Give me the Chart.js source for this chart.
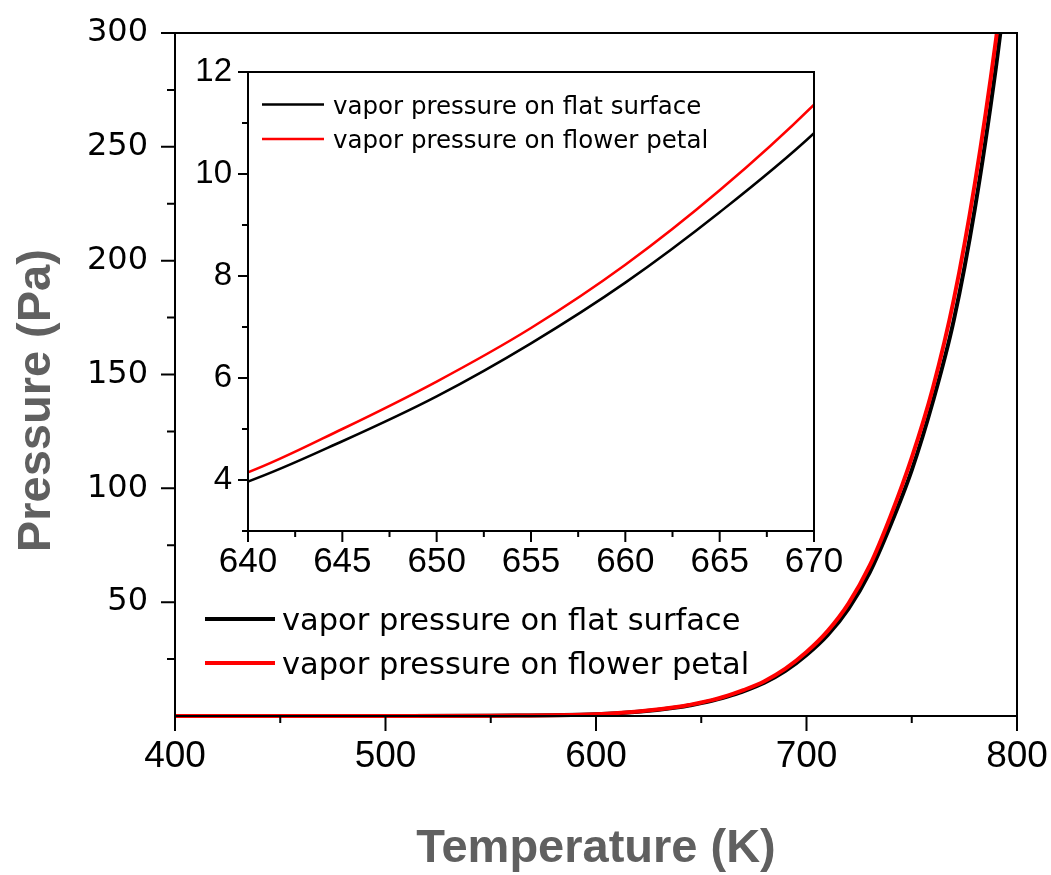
<!DOCTYPE html>
<html>
<head>
<meta charset="utf-8">
<title>Vapor pressure vs temperature</title>
<script src="https://cdn.jsdelivr.net/npm/chart.js@4.4.1/dist/chart.umd.min.js"></script>
<style>
  body { margin: 0; background: #fff; }
  #wrap { position: relative; width: 1051px; height: 875px; }
  #mainChart { position: absolute; left: 0; top: 0; }
  #insetChart { position: absolute; left: 170px; top: 40px; }
</style>
</head>
<body>
<div id="wrap">
  <canvas id="mainChart" width="1051" height="875"></canvas>
  <canvas id="insetChart" width="690" height="560"></canvas>
</div>
<script>
// data (temperature in K, pressure in Pa)
const temperatures = [400, 450, 500, 550, 600, 620, 640, 645, 650, 655, 660, 665, 670,
                      680, 690, 700, 710, 720, 730, 740, 750, 760, 770, 780, 790, 795];
const flatPressure = [0, 0.002, 0.02, 0.15, 0.75, 1.85, 3.97, 4.76, 5.64, 6.68, 7.87, 9.25, 10.8,
                      14.6, 19.8, 26.8, 35.5, 47.2, 63, 84, 108, 138, 174, 223, 285, 322];
const petalPressure = [0, 0.002, 0.02, 0.16, 0.8, 1.95, 4.15, 5.0, 5.93, 6.98, 8.22, 9.68, 11.36,
                       15.3, 20.8, 28.1, 37.3, 49.5, 66, 88, 113.5, 144, 183, 234, 297, 335];
const seriesLabels = ['vapor pressure on flat surface', 'vapor pressure on flower petal'];

// tick values
const mainXTicks = [400, 500, 600, 700, 800];
const mainXMinor = [450, 550, 650, 750];
const mainYTicks = [50, 100, 150, 200, 250, 300];
const mainYMinor = [25, 75, 125, 175, 225, 275];
const insetXTicks = [640, 645, 650, 655, 660, 665, 670];
const insetXMinor = [642.5, 647.5, 652.5, 657.5, 662.5, 667.5];
const insetYTicks = [4, 6, 8, 10, 12];
const insetYMinor = [3, 5, 7, 9, 11];

const toPoints = (ys) => temperatures.map((t, i) => ({ x: t, y: ys[i] }));

// frame round the plot area + outward ticks (major / minor)
const frameAndTicks = {
    id: 'frameAndTicks',
    beforeDatasetsDraw(chart) {
        const { ctx, chartArea: a } = chart;
        ctx.save();
        ctx.fillStyle = '#fff';
        ctx.fillRect(a.left, a.top, a.right - a.left, a.bottom - a.top);
        ctx.restore();
    },
    afterDatasetsDraw(chart, args, o) {
        const { ctx, chartArea: a, scales: { x, y } } = chart;
        ctx.save();
        ctx.strokeStyle = '#000';
        ctx.lineWidth = 2;
        ctx.strokeRect(a.left, a.top, a.right - a.left, a.bottom - a.top);
        ctx.beginPath();
        o.xMajor.forEach(v => { const p = x.getPixelForValue(v); ctx.moveTo(p, a.bottom); ctx.lineTo(p, a.bottom + o.xMajorLen); });
        o.xMinor.forEach(v => { const p = x.getPixelForValue(v); ctx.moveTo(p, a.bottom); ctx.lineTo(p, a.bottom + o.xMinorLen); });
        o.yMajor.forEach(v => { const p = y.getPixelForValue(v); ctx.moveTo(a.left, p); ctx.lineTo(a.left - o.yMajorLen, p); });
        o.yMinor.forEach(v => { const p = y.getPixelForValue(v); ctx.moveTo(a.left, p); ctx.lineTo(a.left - o.yMinorLen, p); });
        ctx.stroke();
        ctx.restore();
    }
};

// legend drawn inside the plot area
const innerLegend = {
    id: 'innerLegend',
    afterDatasetsDraw(chart, args, o) {
        const { ctx, chartArea: a } = chart;
        ctx.save();
        chart.data.datasets.forEach((ds, i) => {
            const yy = a.top + o.top + i * o.gap;
            ctx.strokeStyle = ds.borderColor;
            ctx.lineWidth = o.lineWidth;
            ctx.beginPath();
            ctx.moveTo(a.left + o.left, yy);
            ctx.lineTo(a.left + o.left + o.lineLen, yy);
            ctx.stroke();
            ctx.fillStyle = '#000';
            ctx.font = o.font;
            ctx.textBaseline = 'alphabetic';
            ctx.fillText(ds.label, a.left + o.textLeft, yy + o.baseShift);
        });
        ctx.restore();
    }
};

function lineSet(label, ys, color, width, order) {
    return {
        label: label,
        data: toPoints(ys),
        borderColor: color,
        borderWidth: width,
        pointRadius: 0,
        fill: false,
        cubicInterpolationMode: 'monotone',
        order: order,
        clip: { left: 0, top: 0, right: 0, bottom: 4 }
    };
}

// hidden tick marks only give the label offset (real ticks come from the plugin)
const hiddenGrid = (len) => ({ display: false, drawTicks: true, tickLength: len });

// main chart
new Chart(document.getElementById('mainChart').getContext('2d'), {
    type: 'line',
    data: {
        datasets: [
            lineSet(seriesLabels[0], flatPressure, '#000000', 4, 1),
            lineSet(seriesLabels[1], petalPressure, '#ff0000', 4, 0)
        ]
    },
    options: {
        responsive: false,
        animation: false,
        layout: { padding: { top: 33, right: 34, bottom: 0, left: 0 } },
        plugins: {
            legend: { display: false },
            tooltip: { enabled: false },
            frameAndTicks: {
                xMajor: mainXTicks, xMinor: mainXMinor, yMajor: mainYTicks, yMinor: mainYMinor,
                xMajorLen: 15, xMinorLen: 7, yMajorLen: 14, yMinorLen: 8
            },
            innerLegend: {
                left: 30, lineLen: 70, textLeft: 107, top: 586, gap: 44,
                lineWidth: 4, baseShift: 11, font: '30.5px "DejaVu Sans"'
            }
        },
        scales: {
            x: {
                type: 'linear', min: 400, max: 800,
                afterBuildTicks: s => { s.ticks = mainXTicks.map(v => ({ value: v })); },
                afterFit: s => { s.height = 159; },
                grid: hiddenGrid(19),
                border: { display: false },
                ticks: { padding: 0, color: '#000', autoSkip: false, maxRotation: 0,
                         font: { family: 'Liberation Sans', size: 37 } },
                title: { display: true, text: 'Temperature (K)', color: '#606060', padding: 0,
                         font: { family: 'Liberation Sans', size: 47, weight: 'bold', lineHeight: 1.1 } }
            },
            y: {
                type: 'linear', min: 0, max: 300,
                afterBuildTicks: s => { s.ticks = mainYTicks.map(v => ({ value: v })); },
                afterFit: s => { s.width = 175; },
                grid: hiddenGrid(27),
                border: { display: false },
                ticks: { padding: 0, color: '#000', autoSkip: false,
                         font: { family: 'DejaVu Sans', size: 32 } },
                title: { display: true, text: 'Pressure (Pa)    ', color: '#606060', padding: { top: 11, bottom: 0 },
                         font: { family: 'Liberation Sans', size: 47, weight: 'bold', lineHeight: 1.1 } }
            }
        }
    },
    plugins: [frameAndTicks, innerLegend]
});

// inset chart: zoom on 640-670 K
new Chart(document.getElementById('insetChart').getContext('2d'), {
    type: 'line',
    data: {
        datasets: [
            lineSet(seriesLabels[0], flatPressure, '#000000', 2.5, 1),
            lineSet(seriesLabels[1], petalPressure, '#ff0000', 2.5, 0)
        ]
    },
    options: {
        responsive: false,
        animation: false,
        layout: { padding: { top: 32, right: 46, bottom: 0, left: 0 } },
        plugins: {
            legend: { display: false },
            tooltip: { enabled: false },
            frameAndTicks: {
                xMajor: insetXTicks, xMinor: insetXMinor, yMajor: insetYTicks, yMinor: insetYMinor,
                xMajorLen: 11, xMinorLen: 6, yMajorLen: 10, yMinorLen: 6
            },
            innerLegend: {
                left: 14, lineLen: 62, textLeft: 85, top: 32.6, gap: 34.4,
                lineWidth: 2.5, baseShift: 9, font: '24.5px "DejaVu Sans"'
            }
        },
        scales: {
            x: {
                type: 'linear', min: 640, max: 670,
                afterBuildTicks: s => { s.ticks = insetXTicks.map(v => ({ value: v })); },
                afterFit: s => { s.height = 69; },
                grid: hiddenGrid(10),
                border: { display: false },
                ticks: { padding: 0, color: '#000', autoSkip: false, maxRotation: 0,
                         font: { family: 'Liberation Sans', size: 35 } }
            },
            y: {
                type: 'linear', min: 3, max: 12,
                afterBuildTicks: s => { s.ticks = insetYTicks.map(v => ({ value: v })); },
                afterFit: s => { s.width = 78; },
                grid: hiddenGrid(16),
                border: { display: false },
                ticks: { padding: 0, color: '#000', autoSkip: false,
                         font: { family: 'Liberation Sans', size: 33 } }
            }
        }
    },
    plugins: [frameAndTicks, innerLegend]
});
</script>
</body>
</html>
